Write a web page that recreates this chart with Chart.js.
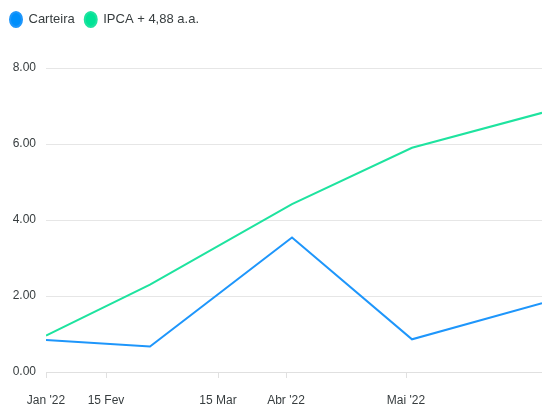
<!DOCTYPE html>
<html>
<head>
<meta charset="utf-8">
<script src="https://cdn.jsdelivr.net/npm/chart.js@4/dist/chart.umd.min.js"></script>
<style>
  html, body { margin: 0; padding: 0; background: #fff; }
  #wrap { width: 542px; height: 408px; position: relative; }
</style>
</head>
<body>
<div id="wrap"><canvas id="myChart"></canvas></div>
<script>
// days counted from 1 Jan 2022
const pointDays = [30, 56, 91.5, 121.5, 154];
const carteira = [0.84, 0.67, 3.54, 0.86, 1.81];
const ipca = [0.96, 2.3, 4.42, 5.9, 6.82];
const tickDays = [30, 45, 73, 90, 120];
const tickLabels = ["Jan '22", "15 Fev", "15 Mar", "Abr '22", "Mai '22"];

function toPoints(values) {
  return values.map((v, i) => ({ x: pointDays[i], y: v }));
}

const legendMargin = {
  id: "legendMargin",
  beforeInit(chart) {
    const fit = chart.legend.fit;
    chart.legend.fit = function () {
      fit.bind(chart.legend)();
      this.height += 32;
    };
  },
};

const ctx = document.getElementById("myChart");
// eslint-disable-next-line no-undef
new Chart(ctx, {
  type: "line",
  data: {
    datasets: [
      {
        label: "Carteira",
        data: toPoints(carteira),
        borderColor: "#1e96fb",
        backgroundColor: "#008ffb",
        borderWidth: 2,
        pointRadius: 0,
        tension: 0,
      },
      {
        label: "IPCA + 4,88 a.a.",
        data: toPoints(ipca),
        borderColor: "#1ee39f",
        backgroundColor: "#00e396",
        borderWidth: 2,
        pointRadius: 0,
        tension: 0,
      },
    ],
  },
  options: {
    responsive: true,
    maintainAspectRatio: false,
    animation: false,
    layout: { padding: { top: 3, bottom: 0, left: 0, right: 0 } },
    plugins: {
      legend: {
        position: "top",
        align: "start",
        labels: {
          usePointStyle: true,
          pointStyle: "circle",
          pointStyleWidth: 12,
          boxHeight: 10.5,
          padding: 10,
          color: "#373d3f",
          font: { family: "'Liberation Sans', Arial, sans-serif", size: 13 },
        },
      },
      tooltip: { enabled: false },
    },
    scales: {
      x: {
        type: "linear",
        min: pointDays[0],
        max: pointDays[pointDays.length - 1],
        afterBuildTicks(scale) {
          scale.ticks = tickDays.map((d) => ({ value: d }));
        },
        afterFit(scale) {
          scale.height = 36;
        },
        grid: {
          drawOnChartArea: false,
          drawTicks: true,
          tickLength: 6,
          tickColor: "#e0e0e0",
        },
        border: { color: "#e0e0e0", width: 1 },
        ticks: {
          autoSkip: false,
          maxRotation: 0,
          padding: 15,
          color: "#373d3f",
          font: { family: "'Liberation Sans', Arial, sans-serif", size: 12 },
          callback(value) {
            const i = tickDays.indexOf(value);
            return i >= 0 ? tickLabels[i] : "";
          },
        },
      },
      y: {
        min: 0,
        max: 8,
        afterFit(scale) {
          scale.width = 46;
        },
        grid: { color: "#e6e6e6", drawTicks: false },
        border: { display: false },
        ticks: {
          stepSize: 2,
          padding: 10,
          color: "#373d3f",
          font: { family: "'Liberation Sans', Arial, sans-serif", size: 12 },
          callback: (v) => v.toFixed(2),
        },
      },
    },
  },
  plugins: [legendMargin],
});
</script>
</body>
</html>
